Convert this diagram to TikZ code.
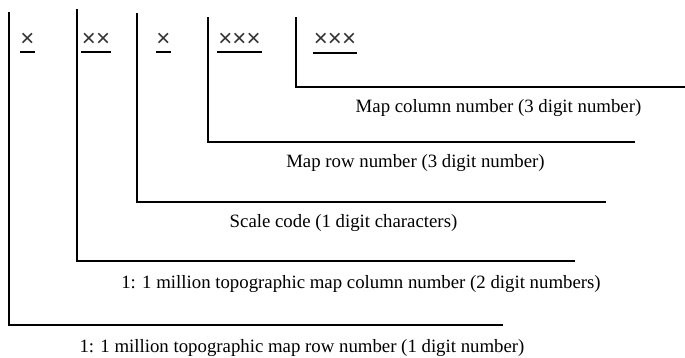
\documentclass[tikz,border=0pt]{standalone}
\usepackage{fontspec}
\setmainfont{Liberation Serif}
\newfontfamily\crossfont{Liberation Sans}
\begin{document}
\begin{tikzpicture}[x=1pt,y=-1pt,
  frame/.style={line width=1.6pt, black},
  uline/.style={line width=2pt, black},
  lbl/.style={inner sep=0pt, anchor=center, font=\fontsize{18.8}{22}\selectfont},
  crs/.style={inner sep=0pt, anchor=center, text=black!80, font=\crossfont\fontsize{24}{26}\selectfont}]
\useasboundingbox (0,0) rectangle (685,357);
% brackets
\draw[frame] (9,12) -- (9,325) -- (503,325);
\draw[frame] (77,9) -- (77,261) -- (575,261);
\draw[frame] (137,13) -- (137,202) -- (606,202);
\draw[frame] (208,17) -- (208,142) -- (635,142);
\draw[frame] (296,17) -- (296,87) -- (685,87);
% cross groups
\node[crs] (c1) at (27.5,40) {×};
\node[crs] (c2) at (96,40) {××};
\node[crs] (c3) at (163.5,40) {×};
\node[crs] (c4) at (239.5,40) {×××};
\node[crs] (c5) at (335,40) {×××};
\draw[uline] (20,52) -- (35,52);
\draw[uline] (81,52) -- (111,52);
\draw[uline] (156,52) -- (171,52);
\draw[uline] (217,52) -- (262,52);
\draw[uline] (313,53) -- (357,53);
% labels
\node[lbl] (t5) at (498.5,108) {Map column number (3 digit number)};
\node[lbl] (t4) at (415.5,163) {Map row number (3 digit number)};
\node[lbl] (t3) at (343.5,223) {Scale code (1 digit characters)};
\node[lbl] (t2) at (361,284) {1: 1 million topographic map column number (2 digit numbers)};
\node[lbl] (t1) at (302,348) {1: 1 million topographic map row number (1 digit number)};
\end{tikzpicture}
\end{document}
